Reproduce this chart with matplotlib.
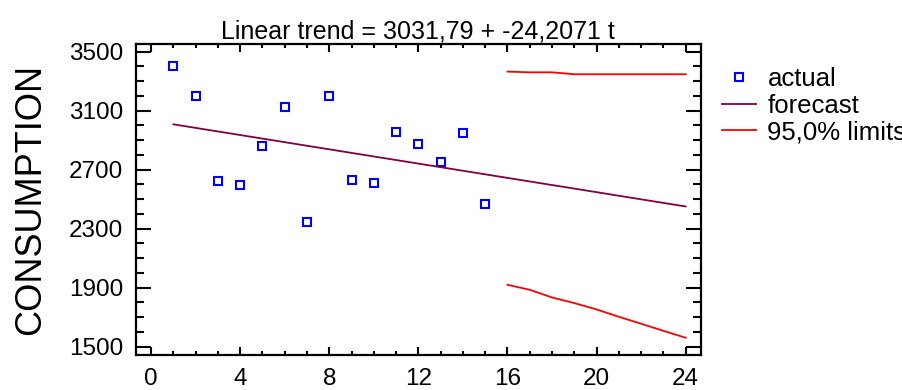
import matplotlib
matplotlib.use('Agg')
import matplotlib.pyplot as plt
from matplotlib.ticker import MultipleLocator

plt.rcParams['font.family'] = ['Liberation Sans', 'DejaVu Sans']

# observed series
t_actual = list(range(1, 16))
actual = [3400, 3197, 2621, 2594, 2858, 3123, 2343, 3197, 2632, 2607,
          2958, 2872, 2752, 2946, 2465]

# trend line, t = 1..24
t_fc = list(range(1, 25))
forecast = [3007.6, 2983.4, 2959.2, 2935.0, 2910.8, 2886.6, 2862.3, 2838.1,
            2813.9, 2789.7, 2765.5, 2741.3, 2717.1, 2692.9, 2668.7, 2644.5,
            2620.3, 2596.1, 2571.9, 2547.7, 2523.4, 2499.2, 2475.0, 2450.8]

# 95% limits, t = 16..24
t_lim = list(range(16, 25))
upper = [3365, 3360, 3360, 3347, 3347, 3347, 3347, 3347, 3347]
lower = [1920, 1886, 1834, 1796, 1753, 1703, 1656, 1608, 1561]

title = 'Linear trend = 3031,79 + -24,2071 t'

fig = plt.figure(figsize=(9.03, 3.90), dpi=100)
ax = fig.add_axes([0.1503, 0.0897, 0.626, 0.7975])

ax.plot(t_actual, actual, ls='none', marker='s', ms=5.5, mfc='none',
        mec='#0000ff', mew=1.5, label='actual')
ax.plot(t_fc, forecast, color='#800040', lw=1.3, label='forecast')
ax.plot(t_lim, upper, color='#ff0000', lw=1.3, label='95,0% limits')
ax.plot(t_lim, lower, color='#ff0000', lw=1.3)

ax.set_xlim(-0.69, 24.69)
ax.set_ylim(1444, 3552)
ax.xaxis.set_major_locator(MultipleLocator(4))
ax.xaxis.set_minor_locator(MultipleLocator(1))
ax.yaxis.set_major_locator(MultipleLocator(400))
ax.yaxis.set_minor_locator(MultipleLocator(100))
ax.set_yticks([1500, 1900, 2300, 2700, 3100, 3500])

for s in ax.spines.values():
    s.set_linewidth(1.6)
ax.tick_params(axis='both', which='both', direction='in', top=True, right=True,
               labelsize=17.5, width=1.5)
ax.tick_params(axis='x', which='major', length=6, pad=9)
ax.tick_params(axis='x', which='minor', length=3)
ax.tick_params(axis='y', which='major', length=11, pad=9)
ax.tick_params(axis='y', which='minor', length=6)

ax.set_title(title, fontsize=18, pad=4)
ax.set_ylabel('CONSUMPTION', fontsize=26, labelpad=15)

ax.legend(loc='upper left', bbox_to_anchor=(1.038, 0.925), frameon=False,
          fontsize=18.5, handlelength=1.3, handletextpad=0.45, labelspacing=0.1,
          borderaxespad=0, borderpad=0)

fig.savefig('out.png', dpi=100)
